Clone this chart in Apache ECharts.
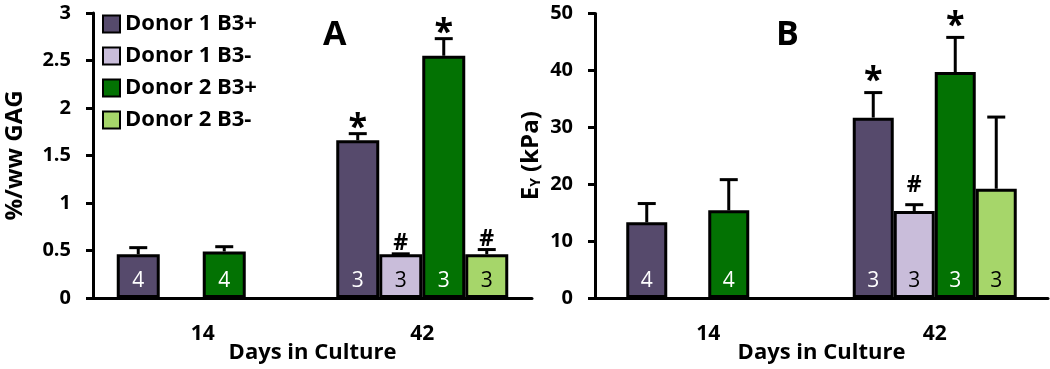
<!DOCTYPE html>
<html>
<head>
<meta charset="utf-8">
<script src="https://cdn.jsdelivr.net/npm/echarts@6/dist/echarts.min.js"></script>
<style>
  html, body { margin: 0; padding: 0; background: #fff; }
  #chart { width: 1050px; height: 369px; }
</style>
</head>
<body>
<div id="chart"></div>
<script>
// categories and groups
var days = ['14', '42'];
var groups = ['Donor 1 B3+', 'Donor 1 B3-', 'Donor 2 B3+', 'Donor 2 B3-'];
var groupColors = ['#564a6c', '#c9bdda', '#037203', '#a6d66a'];
var labelColors = ['#fff', '#000', '#fff', '#000'];

// panel A: %/ww GAG, one row per group, one column per day
var gagMean = [[0.46, 1.66], [null, 0.46], [0.49, 2.55], [null, 0.46]];
var gagErr = [[0.07, 0.07], [null, 0.005], [0.05, 0.18], [null, 0.05]];
var gagN = [[4, 3], [null, 3], [4, 3], [null, 3]];
var gagMark = [['', '*'], ['', '#'], ['', '*'], ['', '#']];

// panel B: Ey (kPa)
var eyMean = [[13.3, 31.7], [null, 15.3], [15.4, 39.7], [null, 19.2]];
var eyErr = [[3.3, 4.4], [null, 1.1], [5.4, 6.1], [null, 12.6]];
var eyN = [[4, 3], [null, 3], [4, 3], [null, 3]];
var eyMark = [['', '*'], ['', '#'], ['', '*'], ['', '']];

var font = 'Open Sans';

function barSeries(mean, nArr, axisIdx, barW) {
    return mean.map(function (row, s) {
        return {
            name: groups[s],
            type: 'bar',
            xAxisIndex: axisIdx,
            yAxisIndex: axisIdx,
            barWidth: barW,
            barGap: '0%',
            data: row,
            itemStyle: {color: groupColors[s], borderColor: '#000', borderWidth: 3},
            label: {
                show: true,
                position: 'insideBottom',
                distance: 6,
                fontFamily: font,
                fontSize: 21,
                color: labelColors[s],
                formatter: function (p) { return nArr[s][p.dataIndex]; }
            }
        };
    });
}

// error bars (upward only) plus significance marks
// starShift / hashShift: vertical nudge of the '*' / '#' text relative to the cap
function errSeries(mean, err, marks, axisIdx, barW, starShift, hashShift) {
    var items = [];
    var markList = [];
    mean.forEach(function (row, s) {
        row.forEach(function (v, c) {
            if (v == null) return;
            items.push([c, s, v, err[s][c]]);
            markList.push(marks[s][c]);
        });
    });
    return {
        type: 'custom',
        xAxisIndex: axisIdx,
        yAxisIndex: axisIdx,
        z: 5,
        clip: false,
        silent: true,
        encode: {x: 0, y: 2},
        data: items,
        renderItem: function (params, api) {
            var c = api.value(0), s = api.value(1), m = api.value(2), e = api.value(3);
            var base = api.coord([c, m]);
            var top = api.coord([c, m + e]);
            var x = base[0] + (s - 1.5) * barW;
            var mk = markList[params.dataIndex];
            var kids = [
                {type: 'line', shape: {x1: x, y1: base[1], x2: x, y2: top[1]}, style: {stroke: '#000', lineWidth: 3}},
                {type: 'line', shape: {x1: x - 9, y1: top[1], x2: x + 9, y2: top[1]}, style: {stroke: '#000', lineWidth: 3}}
            ];
            if (mk) {
                var star = mk === '*';
                kids.push({
                    type: 'text',
                    x: x,
                    y: top[1] + (star ? starShift : hashShift),
                    style: {
                        text: mk,
                        fill: '#000',
                        font: 'bold ' + (star ? 34 : 23) + 'px ' + font,
                        align: 'center',
                        verticalAlign: 'bottom'
                    }
                });
            }
            return {type: 'group', children: kids};
        }
    };
}

var axisLine = {lineStyle: {color: '#000', width: 3}};
var axisTick = {length: 8, lineStyle: {color: '#000', width: 3}};

function xAxis(idx) {
    return {
        type: 'category',
        gridIndex: idx,
        data: days,
        name: 'Days in Culture',
        nameLocation: 'middle',
        nameGap: 44,
        nameMoveOverlap: false,
        nameTextStyle: {fontFamily: font, fontWeight: 'bold', fontSize: 22, color: '#000'},
        axisLine: axisLine,
        axisTick: axisTick,
        axisLabel: {fontFamily: font, fontWeight: 'bold', fontSize: 21, color: '#000', margin: 26}
    };
}

function yAxis(idx, max, step, name, gap) {
    return {
        type: 'value',
        gridIndex: idx,
        min: 0,
        max: max,
        interval: step,
        name: name,
        nameLocation: 'middle',
        nameRotate: 90,
        nameGap: gap,
        nameMoveOverlap: false,
        nameTextStyle: {
            fontFamily: font, fontWeight: 'bold', fontSize: 24, color: '#000',
            rich: {
                e: {fontFamily: font, fontWeight: 'bold', fontSize: 24, color: '#000'},
                sub: {fontFamily: font, fontWeight: 'bold', fontSize: 14, color: '#000', verticalAlign: 'bottom', padding: [9, 0, 0, 0]}
            }
        },
        splitLine: {show: false},
        axisLine: {show: true, lineStyle: {color: '#000', width: 3}},
        axisTick: {show: true, length: 7, lineStyle: {color: '#000', width: 3}},
        axisLabel: {fontFamily: font, fontWeight: 'bold', fontSize: 20, color: '#000', margin: 22}
    };
}

var option = {
    animation: false,
    backgroundColor: '#fff',
    title: [
        {text: 'A', left: 318, top: 13, textStyle: {fontFamily: font, fontWeight: 'bold', fontSize: 34, color: '#000'}},
        {text: 'B', left: 771, top: 13, textStyle: {fontFamily: font, fontWeight: 'bold', fontSize: 34, color: '#000'}}
    ],
    legend: {
        orient: 'vertical',
        left: 97,
        top: 7,
        itemWidth: 17,
        itemHeight: 17,
        itemGap: 8,
        icon: 'rect',
        data: groups,
        textStyle: {fontFamily: font, fontWeight: 'bold', fontSize: 22, color: '#000', lineHeight: 24}
    },
    grid: [
        {left: 93, right: 518, top: 13, bottom: 71, outerBoundsMode: 'none'},
        {left: 595, right: 2, top: 13.5, bottom: 71, outerBoundsMode: 'none'}
    ],
    xAxis: [xAxis(0), xAxis(1)],
    yAxis: [
        yAxis(0, 3, 0.5, '%/ww GAG', 66),
        yAxis(1, 50, 10, '{e|E}{sub|Y}{e| (kPa)}', 52)
    ],
    series: [].concat(
        barSeries(gagMean, gagN, 0, 43),
        barSeries(eyMean, eyN, 1, 41),
        [errSeries(gagMean, gagErr, gagMark, 0, 43, 12, 1), errSeries(eyMean, eyErr, eyMark, 1, 41, 6, -8)]
    )
};

var chart = echarts.init(document.getElementById('chart'));
chart.setOption(option);
</script>
</body>
</html>
